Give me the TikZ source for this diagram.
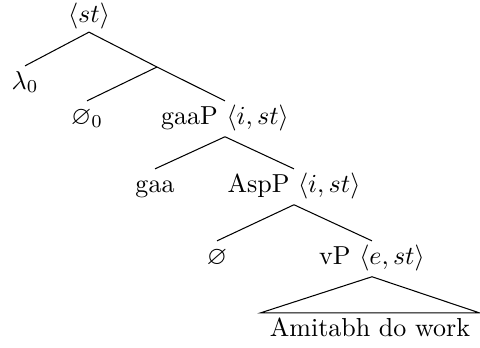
\documentclass[tikz,border=0pt]{standalone}
\usepackage{amssymb}
\begin{document}
\begin{tikzpicture}[x=0.3846pt, y=-0.3846pt,
  lbl/.style={anchor=base, text height=7.5pt, text depth=3.5pt, inner ysep=1.2pt, inner xsep=0pt},
  edge/.style={line width=0.4pt}]
\useasboundingbox (0,0) rectangle (480,347);
\node[lbl, text depth=2.5pt] (root) at (89,22) {$\langle st\rangle$};
\coordinate (m) at (157,67);
\node[lbl] (lam) at (25,89) {$\lambda_0$};
\node[lbl] (zero0) at (87,124) {$\varnothing_0$};
\node[lbl] (gaaP) at (225,124) {gaaP $\langle i, st\rangle$};
\node[lbl] (gaa) at (155,192) {gaa};
\node[lbl] (AspP) at (294,192) {AspP $\langle i, st\rangle$};
\node[lbl] (emp) at (217,264) {$\varnothing$};
\node[lbl] (vP) at (372,264) {vP $\langle e, st\rangle$};
\node[lbl, inner xsep=3.4pt] (amit) at (370,336) {Amitabh do work};
\draw[edge] (root.south) -- (lam.north);
\draw[edge] (root.south) -- (m);
\draw[edge] (m) -- (zero0.north);
\draw[edge] (m) -- (gaaP.north);
\draw[edge] (gaaP.south) -- (gaa.north);
\draw[edge] (gaaP.south) -- (AspP.north);
\draw[edge] (AspP.south) -- (emp.north);
\draw[edge] (AspP.south) -- (vP.north);
\draw[edge] (vP.south) -- (amit.north west) -- (amit.north east) -- cycle;
\end{tikzpicture}
\end{document}
